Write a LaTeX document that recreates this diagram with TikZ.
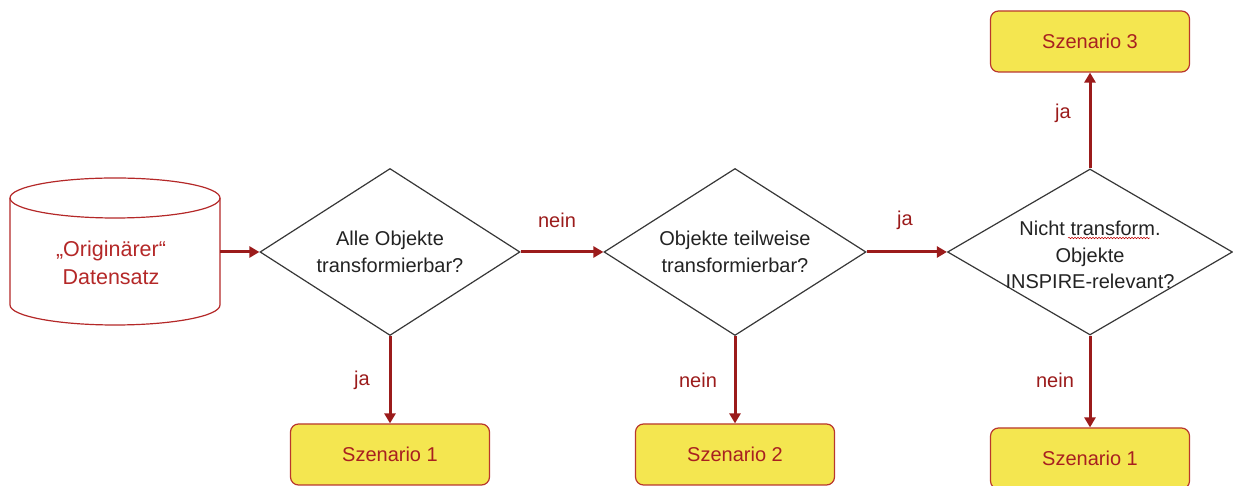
\documentclass[tikz,border=0pt]{standalone}
\usepackage{fontspec}
\setmainfont{Liberation Sans}
\usetikzlibrary{shapes.geometric,arrows.meta,decorations.pathmorphing}
\definecolor{arrowred}{RGB}{155,27,27}
\definecolor{boxfill}{RGB}{244,230,80}
\definecolor{boxline}{RGB}{185,55,45}
\definecolor{boxtext}{RGB}{168,32,32}
\definecolor{dialine}{RGB}{55,55,55}
\definecolor{diatext}{RGB}{35,35,35}
\definecolor{dbred}{RGB}{180,40,40}
\tikzset{
  every node/.style={font=\fontsize{20}{26.5}\selectfont},
  dia/.style={diamond, draw=dialine, line width=1.2pt, fill=white, inner sep=0pt},
  diatxt/.style={text=diatext, align=center, inner sep=0pt},
  scen/.style={draw=boxline, line width=1.2pt, fill=boxfill, rounded corners=8pt,
    minimum width=199pt, minimum height=61pt, text=boxtext, inner sep=0pt},
  flow/.style={draw=arrowred, line width=3pt, -{Triangle[length=10pt,width=11pt]}},
  lbl/.style={text=arrowred, inner sep=0pt},
  dbline/.style={draw=dbred, line width=1.2pt}
}
\begin{document}
\begin{tikzpicture}[x=1pt,y=1pt]
\useasboundingbox (0,0) rectangle (1233,486);
\clip (0,0) rectangle (1233,486);
% cylinder
\draw[dbline] (10,288) -- (10,181) arc[start angle=180, end angle=360, x radius=105pt, y radius=20pt] -- (220,288);
\draw[dbline] (115,288) ellipse[x radius=105pt, y radius=20pt];
\node[text=dbred, align=center, inner sep=0pt, font=\fontsize{21.5}{28}\selectfont] (db) at (111,223) {„Originärer“\\Datensatz};
\coordinate (dbR) at (220,234);
% diamonds
\node[dia, minimum width=260pt, minimum height=167pt] (d1) at (390,234) {};
\node[diatxt] at (d1) {Alle Objekte\\transformierbar?};
\node[dia, minimum width=262pt, minimum height=167pt] (d2) at (735,234) {};
\node[diatxt] at (d2) {Objekte teilweise\\transformierbar?};
\node[dia, minimum width=285pt, minimum height=166pt] (d3) at (1090,234) {};
\node[diatxt] (d3t) at (1090,231) {Nicht transform.\\Objekte\\INSPIRE-relevant?};
\draw[red!75!black, line width=0.5pt, decorate, decoration={snake, amplitude=0.8pt, segment length=3pt}] (1068,248) -- (1150,248);
% scenario boxes
\node[scen] (s3) at (1090,444.5) {Szenario 3};
\node[scen] (s1a) at (390,31.5) {Szenario 1};
\node[scen] (s2) at (735,31.5) {Szenario 2};
\node[scen] (s1b) at (1090,27.5) {Szenario 1};
% connectors
\draw[flow] (dbR) -- (d1.west);
\draw[flow] (d1.east) -- (d2.west);
\draw[flow] (d2.east) -- (d3.west);
\draw[flow] (d1.south) -- (s1a.north);
\draw[flow] (d2.south) -- (s2.north);
\draw[flow] (d3.south) -- (s1b.north);
\draw[flow] (d3.north) -- (s3.south);
% labels
\node[lbl] at (557,266) {nein};
\node[lbl] at (905,266) {ja};
\node[lbl] at (362,106) {ja};
\node[lbl] at (698,106) {nein};
\node[lbl] at (1055,106) {nein};
\node[lbl] at (1063,373) {ja};
\end{tikzpicture}
\end{document}
